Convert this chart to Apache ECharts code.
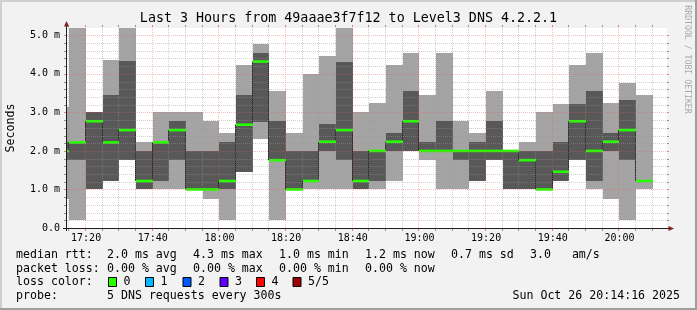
<!DOCTYPE html>
<html><head><meta charset="utf-8">
<script src="https://cdn.jsdelivr.net/npm/echarts@6.0.0/dist/echarts.min.js"></script>
<style>html,body{margin:0;padding:0;background:#f2f2f2;overflow:hidden}#chart{width:697px;height:310px}</style>
</head><body><div id="chart"></div>
<script>
// ---------------- data ----------------
const titleText = 'Last 3 Hours from 49aaae3f7f12 to Level3 DNS 4.2.2.1';
const viewStart = '17:14:16';
const viewEnd = '20:14:16';
const slotMinutes = 5;
const slotStart = ['17:10','17:15','17:20','17:25','17:30','17:35','17:40','17:45','17:50','17:55',
  '18:00','18:05','18:10','18:15','18:20','18:25','18:30','18:35','18:40','18:45','18:50','18:55',
  '19:00','19:05','19:10','19:15','19:20','19:25','19:30','19:35','19:40','19:45','19:50','19:55',
  '20:00','20:05'];
// sorted ping times per slot (ms): lowest, 2nd, median, 4th, highest
const pingMin = [0.76,0.21,1.0,1.22,1.76,1.0,1.0,1.0,1.0,0.76,0.21,1.46,2.32,0.21,1.0,1.0,1.0,1.0,1.0,1.0,1.22,2.0,1.76,1.0,1.0,1.22,1.76,1.0,1.0,1.0,1.22,1.76,1.0,0.76,0.21,1.0];
const ping2   = [1.76,1.76,1.0,1.22,1.76,1.0,1.22,1.76,1.0,1.0,1.0,1.46,2.76,1.76,1.0,1.22,2.0,1.76,1.0,1.22,2.0,2.0,2.0,2.0,1.76,1.22,1.76,1.0,1.0,1.0,1.22,1.76,1.22,2.0,1.76,1.22];
const median  = [2.0,2.22,2.77,2.22,2.54,1.22,2.22,2.54,1.0,1.0,1.22,2.68,4.32,1.76,1.0,1.22,2.24,2.54,1.22,2.0,2.24,2.77,2.0,2.0,2.0,2.0,2.0,2.0,1.76,1.0,1.46,2.77,2.0,2.24,2.54,1.22];
const ping4   = [2.22,2.22,3.0,3.45,4.33,2.0,2.22,2.77,2.0,2.0,2.22,3.45,4.54,2.77,2.0,2.0,2.7,4.31,2.0,2.0,2.47,3.56,2.22,2.77,2.0,2.22,2.77,2.0,2.0,2.0,2.22,3.22,3.56,2.47,3.32,1.22];
const pingMax = [3.15,5.18,3.0,4.36,5.18,2.22,3.0,3.0,3.0,2.77,2.47,4.23,4.78,3.56,2.47,4.0,4.46,5.18,3.0,3.24,4.23,4.54,3.45,4.54,2.77,2.47,3.56,2.0,2.24,3.0,3.22,4.23,4.54,3.24,3.76,3.45];
const xTickLabels = ['17:20','17:40','18:00','18:20','18:40','19:00','19:20','19:40','20:00'];
const yTickValues = [0,1,2,3,4,5];
const yTickLabels = ['0.0','1.0 m','2.0 m','3.0 m','4.0 m','5.0 m'];
const yAxisMax = 5.19;
const yMinorStep = 0.2;
const xMajorMinutes = 20;
const rttLabel = 'median rtt:';
const rttStats = ['2.0 ms avg','4.3 ms max','1.0 ms min','1.2 ms now','0.7 ms sd','3.0   am/s'];
const lossLabel = 'packet loss:';
const lossStats = ['0.00 % avg','0.00 % max','0.00 % min','0.00 % now'];
const lossColorLabel = 'loss color:';
const lossNames = ['0','1','2','3','4','5/5'];
const lossColors = ['#26ff00','#00b8ff','#0059ff','#5e00ff','#ff0000','#a00000'];
const probeLabel = 'probe:';
const probeText = '5 DNS requests every 300s';
const stampText = 'Sun Oct 26 20:14:16 2025';
const watermark = 'RRDTOOL / TOBI OETIKER';

// ---------------- helpers ----------------
const toMin = s => { const p = s.split(':').map(Number); return p[0]*60 + p[1] + (p[2]||0)/60; };
const startMin = toMin(viewStart), endMin = toMin(viewEnd);
const xTickValues = xTickLabels.map(toMin);
const MONO = 'DejaVu Sans Mono';
const snap = Math.round;
const fmtTime = v => { const i = xTickValues.indexOf(v); return i >= 0 ? xTickLabels[i] : ''; };

const chart = echarts.init(document.getElementById('chart'), null, {renderer:'canvas'});

const smokeSeries = {
  type:'custom', z:2, clip:true, silent:true, animation:false,
  data: slotStart.map((s,i)=>[toMin(s), toMin(s)+slotMinutes, pingMin[i], ping2[i], ping4[i], pingMax[i]]),
  renderItem(params, api){
    const cs = params.coordSys;
    let L = snap(api.coord([api.value(0),0])[0]);
    const R = snap(api.coord([api.value(1),0])[0]);
    L = Math.max(L, cs.x);
    if (R <= L) return null;
    const y = v => snap(api.coord([api.value(0), v])[1]);
    const y1=y(api.value(2)), y2=y(api.value(3)), y4=y(api.value(4)), y5=y(api.value(5));
    const ch=[{type:'rect', shape:{x:L,y:y5,width:R-L,height:y1-y5}, style:{fill:'#a4a4a4'}}];
    if (y2>y4) ch.push({type:'rect', shape:{x:L,y:y4,width:R-L,height:y2-y4}, style:{fill:'#585858'}});
    return {type:'group', children:ch};
  }
};

const connectorSeries = {
  type:'custom', z:3, clip:true, silent:true, animation:false,
  data: slotStart.map((s,i)=>[toMin(s), median[i]]),
  renderItem(params, api){
    const i = params.dataIndex; if (i === 0) return null;
    const x = snap(api.coord([api.value(0),0])[0]) - 0.5;
    if (x < params.coordSys.x) return null;
    const ya = api.coord([api.value(0), median[i-1]])[1];
    const yb = api.coord([api.value(0), api.value(1)])[1];
    return {type:'line', shape:{x1:x,y1:ya,x2:x,y2:yb}, style:{stroke:'#202020', lineWidth:1}};
  }
};

const medianSeries = {
  type:'custom', z:4, clip:true, silent:true, animation:false,
  data: slotStart.map((s,i)=>[toMin(s), toMin(s)+slotMinutes, median[i]]),
  renderItem(params, api){
    const cs = params.coordSys;
    let L = snap(api.coord([api.value(0),0])[0]);
    const R = snap(api.coord([api.value(1),0])[0]);
    L = Math.max(L, cs.x);
    if (R <= L) return null;
    const ym = api.coord([api.value(0), api.value(2)])[1];
    return {type:'rect', shape:{x:L, y:ym-1.3, width:R-L, height:2.6}, style:{fill:lossColors[0]}};
  }
};

const MINOR = 'rgba(150,150,150,0.45)';
const MAJOR = 'rgba(230,90,90,0.4)';
const MINOR_TICK = 'rgba(120,120,120,0.8)';
const MAJOR_TICK = 'rgba(220,80,80,0.7)';
const gridSeries = {
  type:'custom', z:10, clip:false, silent:true, animation:false,
  data: [[startMin, 0]],
  renderItem(params, api){
    const ch = [];
    const X = t => api.coord([t, 0])[0];
    const Y = v => api.coord([startMin, v])[1];
    const left = snap(X(startMin)), right = snap(X(endMin));
    const top = snap(Y(yAxisMax)), bottom = snap(Y(0));
    const seg = (x1,y1,x2,y2,color,dash) => ch.push({type:'line', shape:{x1,y1,x2,y2},
      style:{stroke:color, lineWidth:1, lineDash:dash?[1,1]:null}});
    // horizontal lines
    for (let k=1; k*yMinorStep <= yAxisMax+1e-9; k++){
      const v = k*yMinorStep;
      const major = Math.abs(v-Math.round(v)) < 1e-6 && yTickValues.indexOf(Math.round(v))>=0;
      const c = major ? MAJOR : MINOR, tc = major ? MAJOR_TICK : MINOR_TICK;
      const y = snap(Y(v)) + 0.5;
      seg(left-3, y, left-1, y, tc, false);
      seg(left, y, right, y, c, true);
      seg(right, y, right+2, y, tc, false);
    }
    // vertical lines
    const first = Math.ceil(startMin/slotMinutes)*slotMinutes;
    for (let t=first; t<=endMin; t+=slotMinutes){
      const major = (t % xMajorMinutes) === 0;
      const c = major ? MAJOR : MINOR, tc = major ? MAJOR_TICK : MINOR_TICK;
      const x = snap(X(t)) - 0.5;
      seg(x, bottom+1, x, bottom+3, tc, false);
      seg(x, top, x, bottom, c, true);
      seg(x, top-3, x, top-1, tc, false);
    }
    // axes
    const ax = left - 0.5, ay = bottom + 0.5;
    ch.push({type:'line', shape:{x1:ax, y1:bottom+3, x2:ax, y2:top-2}, style:{stroke:'#1f1f1f', lineWidth:1}});
    ch.push({type:'polygon', shape:{points:[[ax-2.5,top-1.5],[ax+2.5,top-1.5],[ax,top-7]]}, style:{fill:'#801f1f'}});
    ch.push({type:'line', shape:{x1:left-4, y1:ay, x2:right+2, y2:ay}, style:{stroke:'#1f1f1f', lineWidth:1}});
    ch.push({type:'polygon', shape:{points:[[right+1.5,ay-2.5],[right+1.5,ay+2.5],[right+7,ay]]}, style:{fill:'#801f1f'}});
    return {type:'group', children:ch};
  }
};

// legend / texts
const txt = (text, x, y, size, extra) => Object.assign({type:'text', x, y, silent:true,
  style:Object.assign({text, fontFamily:MONO, fontSize:size, fill:'#000', verticalAlign:'middle', align:'left'}, extra||{})});
const LS = 11.6;
const statX = [107,193,279,365,451,530];
const rowY = [255, 268.5, 282, 296];
const graphics = [
  {type:'rect', shape:{x:0,y:0,width:697,height:2}, style:{fill:'#cfcfcf'}, silent:true},
  {type:'rect', shape:{x:0,y:0,width:2,height:310}, style:{fill:'#cfcfcf'}, silent:true},
  {type:'rect', shape:{x:0,y:308,width:697,height:2}, style:{fill:'#9e9e9e'}, silent:true},
  {type:'rect', shape:{x:695,y:0,width:2,height:310}, style:{fill:'#9e9e9e'}, silent:true},
  txt(titleText, 348.5, 19, 13.33, {align:'center'}),
  Object.assign(txt(watermark, 687, 59.5, 8.2, {align:'center', fill:'#a9a9a9'}), {rotation:-Math.PI/2}),
  txt(rttLabel, 16, rowY[0], LS),
  txt(lossLabel, 16, rowY[1], LS),
  txt(lossColorLabel, 16, rowY[2], LS),
  txt(probeLabel, 16, rowY[3], LS),
  txt(probeText, 107, rowY[3], LS),
  txt(stampText, 680, rowY[3], LS, {align:'right'})
];
rttStats.forEach((s,i)=>graphics.push(txt(s, statX[i], rowY[0], LS)));
lossStats.forEach((s,i)=>graphics.push(txt(s, statX[i], rowY[1], LS)));
const boxX = [108.5,145.5,183,220,256.5,293];
lossNames.forEach((n,i)=>{
  graphics.push({type:'rect', silent:true, shape:{x:boxX[i], y:rowY[2]-4.5, width:8, height:9},
    style:{fill:lossColors[i], stroke:'#000', lineWidth:1}});
  graphics.push(txt(n, boxX[i]+15, rowY[2], LS));
});

chart.setOption({
  animation:false,
  backgroundColor:'#f2f2f2',
  grid:{left:67, right:30, top:28, bottom:82, show:true, backgroundColor:'#ffffff', borderWidth:0,
    outerBoundsMode:'none', containLabel:false},
  xAxis:{type:'value', min:startMin, max:endMin,
    axisLine:{show:false}, axisTick:{show:false}, splitLine:{show:false},
    axisLabel:{customValues:xTickValues, formatter:fmtTime, fontFamily:MONO, fontSize:10, color:'#000', margin:5}},
  yAxis:{type:'value', min:0, max:yAxisMax,
    axisLine:{show:false}, axisTick:{show:false}, splitLine:{show:false},
    axisLabel:{customValues:yTickValues, formatter:v=>{const i=yTickValues.indexOf(v);return i>=0?yTickLabels[i]:'';},
      fontFamily:MONO, fontSize:10, color:'#000', margin:7},
    name:'Seconds', nameLocation:'middle', nameGap:50, nameRotate:90,
    nameTextStyle:{fontFamily:MONO, fontSize:11.6, color:'#000'}},
  series:[smokeSeries, connectorSeries, medianSeries, gridSeries],
  graphic:graphics
});
</script>
</body></html>
